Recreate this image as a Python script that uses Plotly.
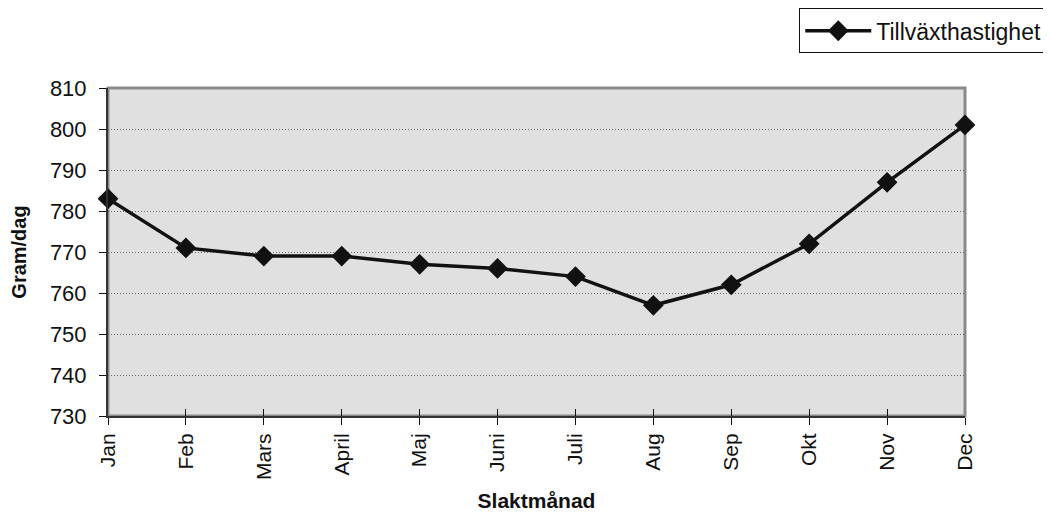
import plotly.graph_objects as go

months = ["Jan", "Feb", "Mars", "April", "Maj", "Juni", "Juli", "Aug", "Sep", "Okt", "Nov", "Dec"]
values = [783, 771, 769, 769, 767, 766, 764, 757, 762, 772, 787, 801]
series_name = "Tillväxthastighet"
y_ticks = [730, 740, 750, 760, 770, 780, 790, 800, 810]

xpos = list(range(len(months)))

fig = go.Figure()
fig.add_trace(go.Scatter(
    x=xpos, y=values, name=series_name, mode="lines+markers",
    line=dict(color="#111111", width=3.5),
    marker=dict(symbol="diamond", size=16, color="#111111"),
    cliponaxis=False,
))
# invisible trace on overlay axis to draw inner ticks
fig.add_trace(go.Scatter(x=xpos, y=values, xaxis="x2", showlegend=False,
                         mode="markers", marker=dict(opacity=0), hoverinfo="skip"))

fig.update_layout(
    width=1051, height=518,
    margin=dict(l=100, r=94, t=80, b=110, autoexpand=False),
    paper_bgcolor="white", plot_bgcolor="#e0e0e0",
    font=dict(family="Arial, Liberation Sans, sans-serif", color="#111111"),
    showlegend=True,
    legend=dict(
        x=1.096, y=1.243, xanchor="right", yanchor="top",
        bordercolor="#111111", borderwidth=1, bgcolor="white",
        font=dict(size=23, color="#111111"), itemwidth=66,
    ),
    shapes=[dict(type="rect", xref="paper", yref="paper", x0=0, x1=1, y0=0, y1=1,
                 line=dict(color="#8a8a8a", width=3), layer="below")],
)
fig.update_xaxes(
    range=[0, len(months) - 1], tickvals=xpos, ticktext=months, tickangle=-90,
    showgrid=False, zeroline=False, showline=True, linecolor="#333333", linewidth=2,
    ticks="outside", ticklen=7, tickcolor="#111111",
    tickfont=dict(size=21),
    title=dict(text="<b>Slaktmånad</b>", font=dict(size=21), standoff=14),
)
fig.update_layout(xaxis2=dict(
    overlaying="x", anchor="y", side="bottom", range=[0, len(months) - 1],
    tickvals=xpos, showticklabels=False, ticks="inside", ticklen=7,
    tickcolor="#111111", showgrid=False, zeroline=False, showline=False,
))
fig.update_yaxes(
    range=[730, 810], tickvals=y_ticks, showgrid=True, gridcolor="#6a6a6a",
    griddash="1px,2px", gridwidth=1, zeroline=False, showline=True,
    linecolor="#333333", linewidth=2, ticks="outside", ticklen=7, tickcolor="#111111",
    tickfont=dict(size=22), ticklabelstandoff=8,
    title=dict(text="<b>Gram/dag</b>", font=dict(size=20), standoff=22),
)

fig.write_html("out.html")
